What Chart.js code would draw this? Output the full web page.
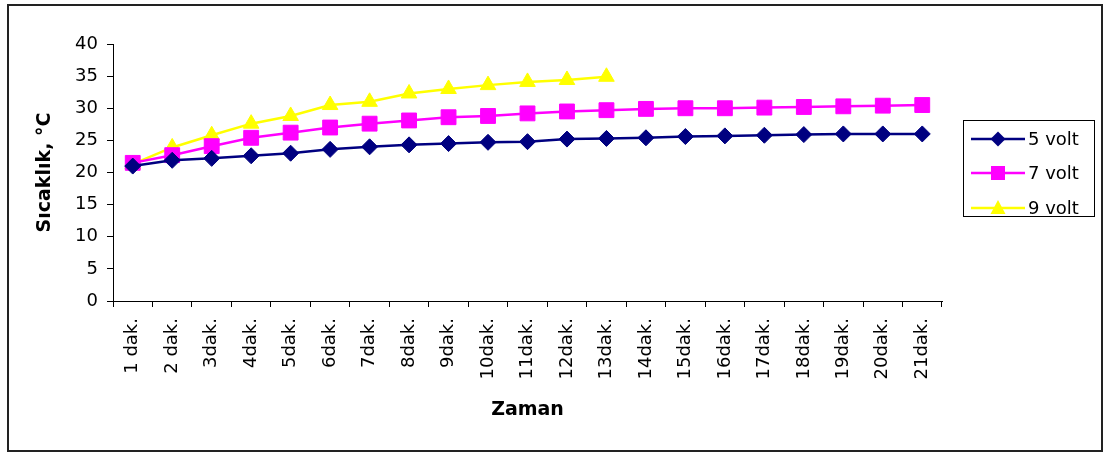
<!DOCTYPE html>
<html>
<head>
<meta charset="utf-8">
<title>Sıcaklık - Zaman</title>
<script src="https://cdn.jsdelivr.net/npm/chart.js@4/dist/chart.umd.min.js"></script>
<style>
  html, body { margin: 0; padding: 0; background: #fff; }
  #wrap { width: 1105px; height: 453px; }
</style>
</head>
<body>
<div id="wrap"><canvas id="tempChart" width="1105" height="453"></canvas></div>
<script>
const minutes = ['1 dak.', '2 dak.', '3dak.', '4dak.', '5dak.', '6dak.', '7dak.', '8dak.', '9dak.', '10dak.',
  '11dak.', '12dak.', '13dak.', '14dak.', '15dak.', '16dak.', '17dak.', '18dak.', '19dak.', '20dak.', '21dak.'];

const volt5 = [21.0, 21.9, 22.2, 22.6, 23.0, 23.6, 24.0, 24.3, 24.5, 24.7, 24.8, 25.2, 25.3, 25.4, 25.6, 25.7, 25.8, 25.9, 26.0, 26.0, 26.0];
const volt7 = [21.5, 22.7, 24.1, 25.4, 26.2, 27.0, 27.6, 28.1, 28.6, 28.8, 29.2, 29.5, 29.7, 29.9, 30.0, 30.0, 30.1, 30.2, 30.3, 30.4, 30.5];
const volt9 = [21.3, 23.9, 25.8, 27.6, 28.8, 30.5, 31.0, 32.3, 33.0, 33.6, 34.1, 34.4, 34.9];

const yTicks = [0, 5, 10, 15, 20, 25, 30, 35, 40];

const FONT = 'DejaVu Sans';

// outer frame and legend box with line + marker samples
const frameAndLegend = {
  id: 'frameAndLegend',
  beforeDraw(chart) {
    const ctx = chart.ctx;
    ctx.save();
    ctx.fillStyle = '#fff';
    ctx.fillRect(0, 0, chart.width, chart.height);
    ctx.strokeStyle = '#222';
    ctx.lineWidth = 2;
    ctx.strokeRect(8, 5, 1094, 446);
    ctx.restore();
  },
  afterDraw(chart) {
    const ctx = chart.ctx;
    ctx.save();
    ctx.strokeStyle = '#000';
    ctx.lineWidth = 1;
    ctx.strokeRect(963.5, 120.5, 131, 96);
    const rows = [139, 173, 208];
    chart.data.datasets.forEach((ds, i) => {
      const y = rows[i];
      ctx.strokeStyle = ds.borderColor;
      ctx.lineWidth = 2.5;
      ctx.beginPath();
      ctx.moveTo(971, y);
      ctx.lineTo(1025, y);
      ctx.stroke();
      ctx.fillStyle = ds.pointBackgroundColor;
      ctx.beginPath();
      const cx = 998;
      if (ds.pointStyle === 'rectRot') {
        ctx.moveTo(cx, y - 7.5); ctx.lineTo(cx + 7.5, y); ctx.lineTo(cx, y + 7.5); ctx.lineTo(cx - 7.5, y);
      } else if (ds.pointStyle === 'rect') {
        ctx.rect(cx - 7, y - 7, 14, 14);
      } else {
        ctx.moveTo(cx, y - 8); ctx.lineTo(cx + 7.5, y + 6); ctx.lineTo(cx - 7.5, y + 6);
      }
      ctx.closePath();
      ctx.fill();
      ctx.fillStyle = '#000';
      ctx.font = '18px "' + FONT + '"';
      ctx.textBaseline = 'middle';
      ctx.textAlign = 'left';
      ctx.fillText(ds.label, 1028, y + 1);
    });
    ctx.restore();
  }
};

new Chart(document.getElementById('tempChart'), {
  type: 'line',
  data: {
    labels: minutes,
    datasets: [
      {
        label: '5 volt',
        data: volt5,
        borderColor: '#000080',
        backgroundColor: '#000080',
        pointBackgroundColor: '#000080',
        pointBorderColor: '#000080',
        pointStyle: 'rectRot',
        pointRadius: 8,
        borderWidth: 2.5,
        pointBorderWidth: 1,
        tension: 0
      },
      {
        label: '7 volt',
        data: volt7,
        borderColor: '#ff00ff',
        backgroundColor: '#ff00ff',
        pointBackgroundColor: '#ff00ff',
        pointBorderColor: '#ff00ff',
        pointStyle: 'rect',
        pointRadius: 10.5,
        borderWidth: 2.5,
        pointBorderWidth: 1,
        tension: 0
      },
      {
        label: '9 volt',
        data: volt9,
        borderColor: '#ffff00',
        backgroundColor: '#ffff00',
        pointBackgroundColor: '#ffff00',
        pointBorderColor: '#ffff00',
        pointStyle: 'triangle',
        pointRadius: 9,
        borderWidth: 2.5,
        pointBorderWidth: 1,
        tension: 0
      }
    ]
  },
  options: {
    responsive: false,
    animation: false,
    layout: { padding: { left: 8, top: 44, right: 163, bottom: 30 } },
    plugins: {
      legend: { display: false },
      tooltip: { enabled: false }
    },
    scales: {
      x: {
        offset: true,
        grid: { offset: true, drawOnChartArea: false, color: '#000', tickLength: 6 },
        border: { color: '#000', width: 1 },
        ticks: {
          autoSkip: false,
          minRotation: 90,
          maxRotation: 90,
          padding: 11,
          color: '#000',
          font: { family: FONT, size: 18 }
        },
        title: {
          display: true,
          text: 'Zaman',
          color: '#000',
          padding: { top: 0, bottom: 2 },
          font: { family: FONT, size: 19, weight: 'bold' }
        },
        afterFit(scale) { scale.height = 122; }
      },
      y: {
        min: 0,
        max: 40,
        afterBuildTicks(scale) { scale.ticks = yTicks.map(v => ({ value: v })); },
        grid: { drawOnChartArea: false, color: '#000', tickLength: 6 },
        border: { color: '#000', width: 1 },
        ticks: {
          padding: 9,
          color: '#000',
          font: { family: FONT, size: 18 }
        },
        title: {
          display: true,
          text: 'Sıcaklık, °C',
          color: '#000',
          padding: { top: 26, bottom: 0 },
          font: { family: FONT, size: 19, weight: 'bold' }
        },
        afterFit(scale) { scale.width = 105; }
      }
    }
  },
  plugins: [frameAndLegend]
});
</script>
</body>
</html>
